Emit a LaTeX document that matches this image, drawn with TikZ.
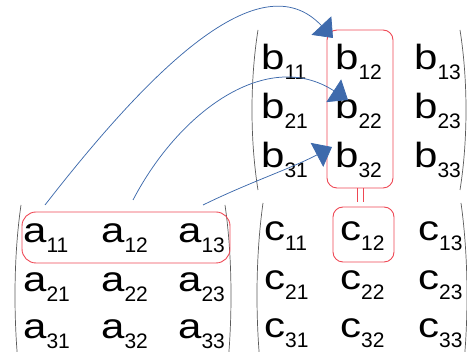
\documentclass[tikz,border=0pt]{standalone}
\usepackage{fontspec}
\setmainfont{Liberation Sans}
\usetikzlibrary{arrows.meta}
\definecolor{arrowblue}{RGB}{62,106,172}
\definecolor{boxred}{RGB}{238,72,84}
\definecolor{parengray}{RGB}{90,90,90}
\newcommand\mentry[2]{\scalebox{1.2}[1]{#1}\raisebox{-10pt}{\fontsize{21}{21}\selectfont #2}}
\begin{document}
\begin{tikzpicture}[x=1pt,y=-1pt,
  cell/.style={anchor=base west,inner sep=0pt,font=\fontsize{35}{35}\selectfont},
  redbox/.style={draw=boxred,line width=0.9pt,rounded corners=10pt,inner sep=0pt},
  paren/.style={draw=parengray,line width=0.7pt},
  link/.style={draw=arrowblue,line width=0.75pt,-{Triangle[length=17pt,width=27pt,fill=arrowblue]}}]
\useasboundingbox (0,0) rectangle (467,352);
\clip (0,0) rectangle (467,352);
% parentheses
\draw[paren] (258,30) .. controls (250,80) and (250,140) .. (258,190);
\draw[paren] (460,30) .. controls (468,80) and (468,140) .. (460,190);
\draw[paren] (21,205) .. controls (13,260) and (13,330) .. (21,390);
\draw[paren] (225,205) .. controls (233,260) and (233,330) .. (225,390);
\draw[paren] (263,203) .. controls (255,260) and (255,330) .. (263,390);
\draw[paren] (461,203) .. controls (469,260) and (469,330) .. (461,390);
% matrix B
\node[cell] (b11) at (261,70) {\mentry{b}{11}};
\node[cell] (b12) at (335,70) {\mentry{b}{12}};
\node[cell] (b13) at (414,70) {\mentry{b}{13}};
\node[cell] (b21) at (261,119) {\mentry{b}{21}};
\node[cell] (b22) at (335,119) {\mentry{b}{22}};
\node[cell] (b23) at (414,119) {\mentry{b}{23}};
\node[cell] (b31) at (261,168) {\mentry{b}{31}};
\node[cell] (b32) at (335,168) {\mentry{b}{32}};
\node[cell] (b33) at (414,168) {\mentry{b}{33}};
% matrix A
\node[cell] (a11) at (23,243) {\mentry{a}{11}};
\node[cell] (a12) at (101,243) {\mentry{a}{12}};
\node[cell] (a13) at (178,243) {\mentry{a}{13}};
\node[cell] (a21) at (23,292) {\mentry{a}{21}};
\node[cell] (a22) at (101,292) {\mentry{a}{22}};
\node[cell] (a23) at (178,292) {\mentry{a}{23}};
\node[cell] (a31) at (23,339) {\mentry{a}{31}};
\node[cell] (a32) at (101,339) {\mentry{a}{32}};
\node[cell] (a33) at (178,339) {\mentry{a}{33}};
% matrix C
\node[cell] (c11) at (264,241) {\mentry{c}{11}};
\node[cell] (c12) at (340,241) {\mentry{c}{12}};
\node[cell] (c13) at (418,241) {\mentry{c}{13}};
\node[cell] (c21) at (264,290) {\mentry{c}{21}};
\node[cell] (c22) at (340,290) {\mentry{c}{22}};
\node[cell] (c23) at (418,290) {\mentry{c}{23}};
\node[cell] (c31) at (264,338) {\mentry{c}{31}};
\node[cell] (c32) at (340,338) {\mentry{c}{32}};
\node[cell] (c33) at (418,338) {\mentry{c}{33}};
% red boxes
\node[redbox,minimum width=66pt,minimum height=158pt] (colbox) at (360,109) {};
\node[redbox,minimum width=61pt,minimum height=55pt] (cbox) at (363.5,234.5) {};
\node[redbox,rounded corners=14pt,minimum width=208pt,minimum height=51pt] (rowbox) at (126,237.5) {};
% equals sign
\draw[boxred,line width=0.9pt,shorten >=5pt] ([xshift=-3pt]colbox.south) -- ([xshift=-3pt]colbox.south |- cbox.north);
\draw[boxred,line width=0.9pt,shorten >=5pt] ([xshift=3pt]colbox.south) -- ([xshift=3pt]colbox.south |- cbox.north);
% arrows
\coordinate (s1) at (45,205);
\coordinate (s2) at (133,200);
\coordinate (s3) at (203,205);
\coordinate (t1) at (333,38);
\coordinate (t2) at (348,100);
\coordinate (t3) at (332,147);
\draw[link] (s1) .. controls (150,70) and (260,-40) .. (t1);
\draw[link] (s2) .. controls (180,110) and (268,48) .. (t2);
\draw[link] (s3) .. controls (250,182) and (290,169) .. (t3);
\end{tikzpicture}
\end{document}
